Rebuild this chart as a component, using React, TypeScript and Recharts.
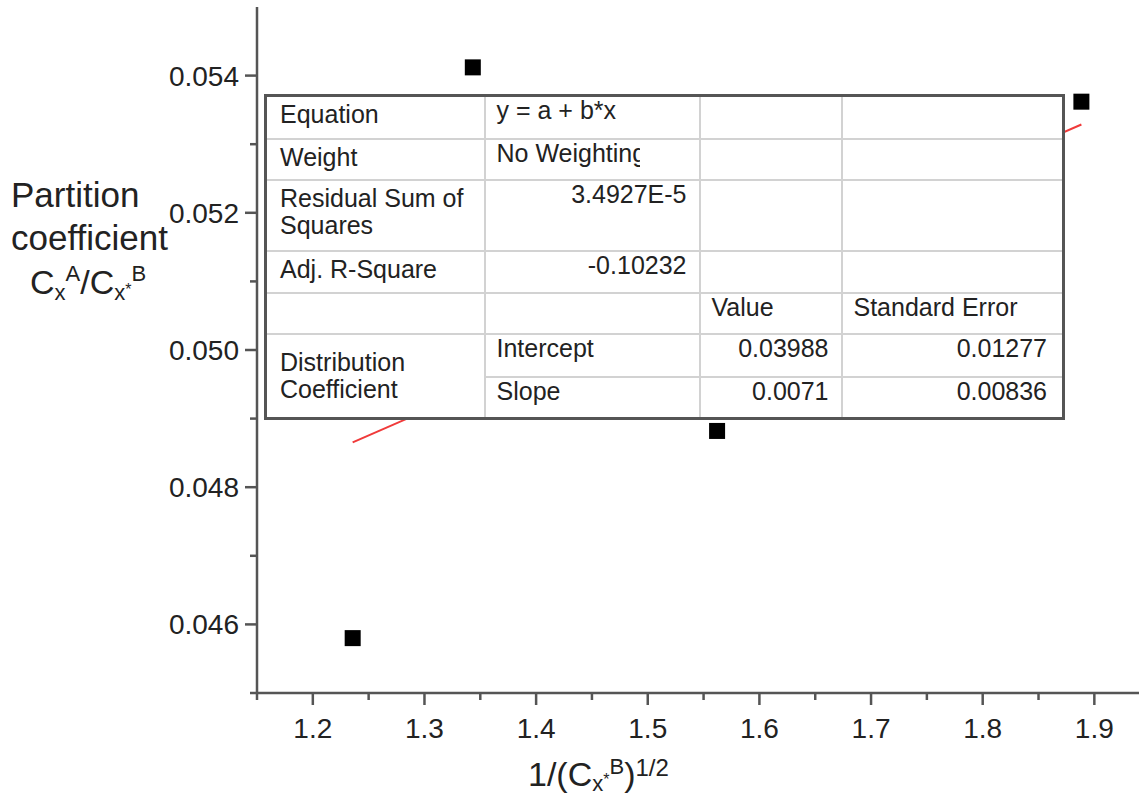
import { ScatterChart, Scatter, XAxis, YAxis } from 'recharts';

// measured points: 1/(Cx*B)^1/2 vs partition coefficient
const invRootConc = [1.2357, 1.3433, 1.5621, 1.8884];
const partitionCoef = [0.0458, 0.05412, 0.04882, 0.05362];

// linear fit y = a + b*x
const fitIntercept = 0.03988;
const fitSlope = 0.0071;

const xTicks = [1.15, 1.2, 1.25, 1.3, 1.35, 1.4, 1.45, 1.5, 1.55, 1.6, 1.65, 1.7, 1.75, 1.8, 1.85, 1.9];
const yTicks = [0.045, 0.046, 0.047, 0.048, 0.049, 0.05, 0.051, 0.052, 0.053, 0.054];

// fit result table
const statLabels = ['Equation', 'Weight', 'Residual Sum of Squares', 'Adj. R-Square'];
const statValues = ['y = a + b*x', 'No Weighting', '3.4927E-5', '-0.10232'];
const paramHeaders = ['Value', 'Standard Error'];
const paramGroup = 'Distribution Coefficient';
const paramNames = ['Intercept', 'Slope'];
const paramValues = ['0.03988', '0.0071'];
const paramErrors = ['0.01277', '0.00836'];

const FONT = '"Liberation Sans", Arial, sans-serif';
const AXIS = '#555';
const TEXT = '#222';

const points = invRootConc.map((x, i) => ({ x, y: partitionCoef[i] }));
const fitX = [invRootConc[0], invRootConc[invRootConc.length - 1]];
const fitLine = fitX.map((x) => ({ x, y: fitIntercept + fitSlope * x }));

const isStep = (v: number, per: number) => Math.abs(v * per - Math.round(v * per)) < 1e-6;

const XTick = (props: any) => {
  const { x, y, payload } = props;
  const major = isStep(payload.value, 10);
  return (
    <g>
      <line x1={x} y1={y} x2={x} y2={y + (major ? 12 : 7)} stroke={AXIS} strokeWidth={2.5} />
      {major && (
        <text x={x} y={y + 45} textAnchor="middle" fontSize={28} fill={TEXT} fontFamily={FONT}>
          {payload.value.toFixed(1)}
        </text>
      )}
    </g>
  );
};

const YTick = (props: any) => {
  const { x, y, payload } = props;
  const major = isStep(payload.value, 500);
  return (
    <g>
      <line x1={x - (major ? 12 : 7)} y1={y} x2={x} y2={y} stroke={AXIS} strokeWidth={2.5} />
      {major && (
        <text x={x - 18} y={y} dy="0.36em" textAnchor="end" fontSize={28} fill={TEXT} fontFamily={FONT}>
          {payload.value.toFixed(3)}
        </text>
      )}
    </g>
  );
};

const Square = (props: any) => (
  <rect x={props.cx - 8} y={props.cy - 8} width={16} height={16} fill="#000" />
);

const NoDot = () => <g />;

const cell = (extra: React.CSSProperties = {}): React.CSSProperties => ({
  border: '2px solid #d2d2d2',
  verticalAlign: 'top',
  padding: '0 12px 0 11px',
  overflow: 'hidden',
  whiteSpace: 'nowrap',
  ...extra,
});

const labelCell = (extra: React.CSSProperties = {}) =>
  cell({ paddingTop: 4, paddingLeft: 13, whiteSpace: 'normal', ...extra });

const rowHeights = [43, 41, 71, 42, 41, 43, 42];

function FitTable() {
  return (
    <table
      style={{
        position: 'absolute',
        left: 264,
        top: 94,
        width: 800,
        height: 325,
        borderCollapse: 'collapse',
        tableLayout: 'fixed',
        border: `3px solid ${AXIS}`,
        background: '#fff',
        fontFamily: FONT,
        fontSize: 25,
        lineHeight: '27px',
        color: TEXT,
      }}
    >
      <colgroup>
        <col style={{ width: 219 }} />
        <col style={{ width: 215 }} />
        <col style={{ width: 142 }} />
        <col style={{ width: 222 }} />
      </colgroup>
      <tbody>
        {statLabels.map((label, i) => (
          <tr key={label} style={{ height: rowHeights[i] }}>
            <td style={labelCell()}>{label}</td>
            <td style={cell({ textAlign: i < 2 ? 'left' : 'right' })}>
              {i === 1 ? (
                <span style={{ display: 'inline-block', width: 143, overflow: 'hidden', verticalAlign: 'top' }}>
                  {statValues[i]}
                </span>
              ) : (
                statValues[i]
              )}
            </td>
            <td style={cell()} />
            <td style={cell()} />
          </tr>
        ))}
        <tr style={{ height: rowHeights[4] }}>
          <td style={cell()} />
          <td style={cell()} />
          <td style={cell()}>{paramHeaders[0]}</td>
          <td style={cell()}>{paramHeaders[1]}</td>
        </tr>
        {paramNames.map((name, i) => (
          <tr key={name} style={{ height: rowHeights[5 + i] }}>
            {i === 0 && (
              <td rowSpan={2} style={labelCell({ verticalAlign: 'middle', paddingTop: 0, paddingRight: 40 })}>
                {paramGroup}
              </td>
            )}
            <td style={cell()}>{name}</td>
            <td style={cell({ textAlign: 'right' })}>{paramValues[i]}</td>
            <td style={cell({ textAlign: 'right', paddingRight: 15 })}>{paramErrors[i]}</td>
          </tr>
        ))}
      </tbody>
    </table>
  );
}

function AxisTitles() {
  return (
    <svg
      width={1139}
      height={797}
      style={{ position: 'absolute', left: 0, top: 0, pointerEvents: 'none' }}
      fontFamily={FONT}
      fill={TEXT}
    >
      <text x={11} y={207} fontSize={35}>Partition</text>
      <text x={11} y={250} fontSize={35}>coefficient</text>
      <text x={30} y={294} fontSize={34}>
        C<tspan fontSize={22} dy={6}>x</tspan>
        <tspan fontSize={22} dy={-19}>A</tspan>
        <tspan fontSize={34} dy={13}>/C</tspan>
        <tspan fontSize={22} dy={6}>x</tspan>
        <tspan fontSize={16} dy={-5}>*</tspan>
        <tspan fontSize={22} dy={-14}>B</tspan>
      </text>
      <text x={528} y={786} fontSize={34}>
        1/(C<tspan fontSize={22} dy={5}>x</tspan>
        <tspan fontSize={16} dy={-6}>*</tspan>
        <tspan fontSize={22} dy={-11}>B</tspan>
        <tspan fontSize={34} dy={12}>)</tspan>
        <tspan fontSize={24} dy={-10}>1/2</tspan>
      </text>
    </svg>
  );
}

export default function App() {
  return (
    <div style={{ position: 'absolute', left: 0, top: 0, width: 1139, height: 797, background: '#fff', overflow: 'hidden' }}>
      <ScatterChart width={1139} height={797} margin={{ top: 7, right: 0, bottom: 0, left: 0 }}>
        <XAxis
          type="number"
          dataKey="x"
          domain={[1.15, 1.94]}
          allowDataOverflow
          ticks={xTicks}
          interval={0}
          height={104}
          tickSize={0}
          tickMargin={0}
          tickLine={false}
          tick={XTick}
          axisLine={{ stroke: AXIS, strokeWidth: 2.5 }}
        />
        <YAxis
          type="number"
          dataKey="y"
          domain={[0.045, 0.055]}
          allowDataOverflow
          ticks={yTicks}
          interval={0}
          width={257}
          tickSize={0}
          tickMargin={0}
          tickLine={false}
          tick={YTick}
          axisLine={{ stroke: AXIS, strokeWidth: 2.5 }}
        />
        <Scatter
          data={fitLine}
          line={{ stroke: '#f03a3a', strokeWidth: 2 }}
          lineType="joint"
          shape={NoDot}
          isAnimationActive={false}
        />
        <Scatter data={points} shape={Square} isAnimationActive={false} />
      </ScatterChart>
      <FitTable />
      <AxisTitles />
    </div>
  );
}
